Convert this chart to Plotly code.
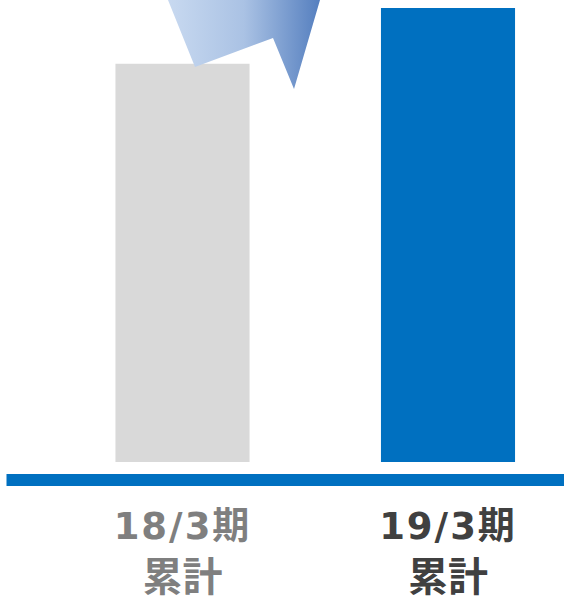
import plotly.graph_objects as go

categories = ["18/3期", "19/3期"]
sublabel = "累計"
values = [87.7, 100.0]
bar_colors = ["#d9d9d9", "#0070c0"]
label_colors = ["#7f7f7f", "#404040"]

# decorative arrow (pixel-space overlay)
arrow_x = [168, 195, 273, 294, 320, 168]
arrow_y = [0, 67, 38, 89, 0, 0]

W, H = 564, 596
plot_bottom = 462

fig = go.Figure()
fig.add_trace(go.Bar(
    x=[0, 1], y=values, marker=dict(color=bar_colors, line=dict(width=0)),
    width=0.505, hoverinfo="skip"))

fig.add_trace(go.Scatter(
    x=arrow_x, y=arrow_y, xaxis="x2", yaxis="y2", mode="lines",
    line=dict(width=0), fill="toself",
    fillgradient=dict(type="horizontal",
                      colorscale=[[0, "#c8d9f0"], [0.5, "#aac2e4"], [1, "#557fbf"]]),
    hoverinfo="skip", showlegend=False))

ticktext = [f'<span style="color:{c};font-size:37px;font-family:DejaVu Sans, Noto Sans CJK JP;letter-spacing:2px"><b>{t}</b></span><br>'
            f'<span style="color:{c}"><b>{sublabel}</b></span>'
            for t, c in zip(categories, label_colors)]

unit = 265.5
a = -182.5 / unit
b = a + W / unit

fig.update_layout(
    width=W, height=H,
    margin=dict(l=0, r=0, t=0, b=H - plot_bottom, pad=0, autoexpand=False),
    paper_bgcolor="white", plot_bgcolor="rgba(0,0,0,0)",
    showlegend=False,
    xaxis=dict(range=[a, b], tickvals=[0, 1], ticktext=ticktext,
               showgrid=False, zeroline=False, showline=False, ticks="",
               automargin=False,
               tickfont=dict(family="Noto Sans CJK JP", size=40, color="#7f7f7f"),
               ticklabelstandoff=36),
    yaxis=dict(range=[0, 100 * plot_bottom / 454], visible=False, showgrid=False,
               automargin=False),
    xaxis2=dict(range=[0, W], overlaying="x", visible=False),
    yaxis2=dict(range=[plot_bottom, 0], overlaying="y", visible=False),
    shapes=[dict(type="rect", xref="paper", yref="paper",
                 x0=6.5 / W, x1=1, y0=-(486 - plot_bottom) / plot_bottom,
                 y1=-(474 - plot_bottom) / plot_bottom,
                 fillcolor="#0070c0", line=dict(width=0), layer="above")],
)

fig.write_html("out.html", config={"displayModeBar": False},
               post_script="document.body.style.margin='0';")
